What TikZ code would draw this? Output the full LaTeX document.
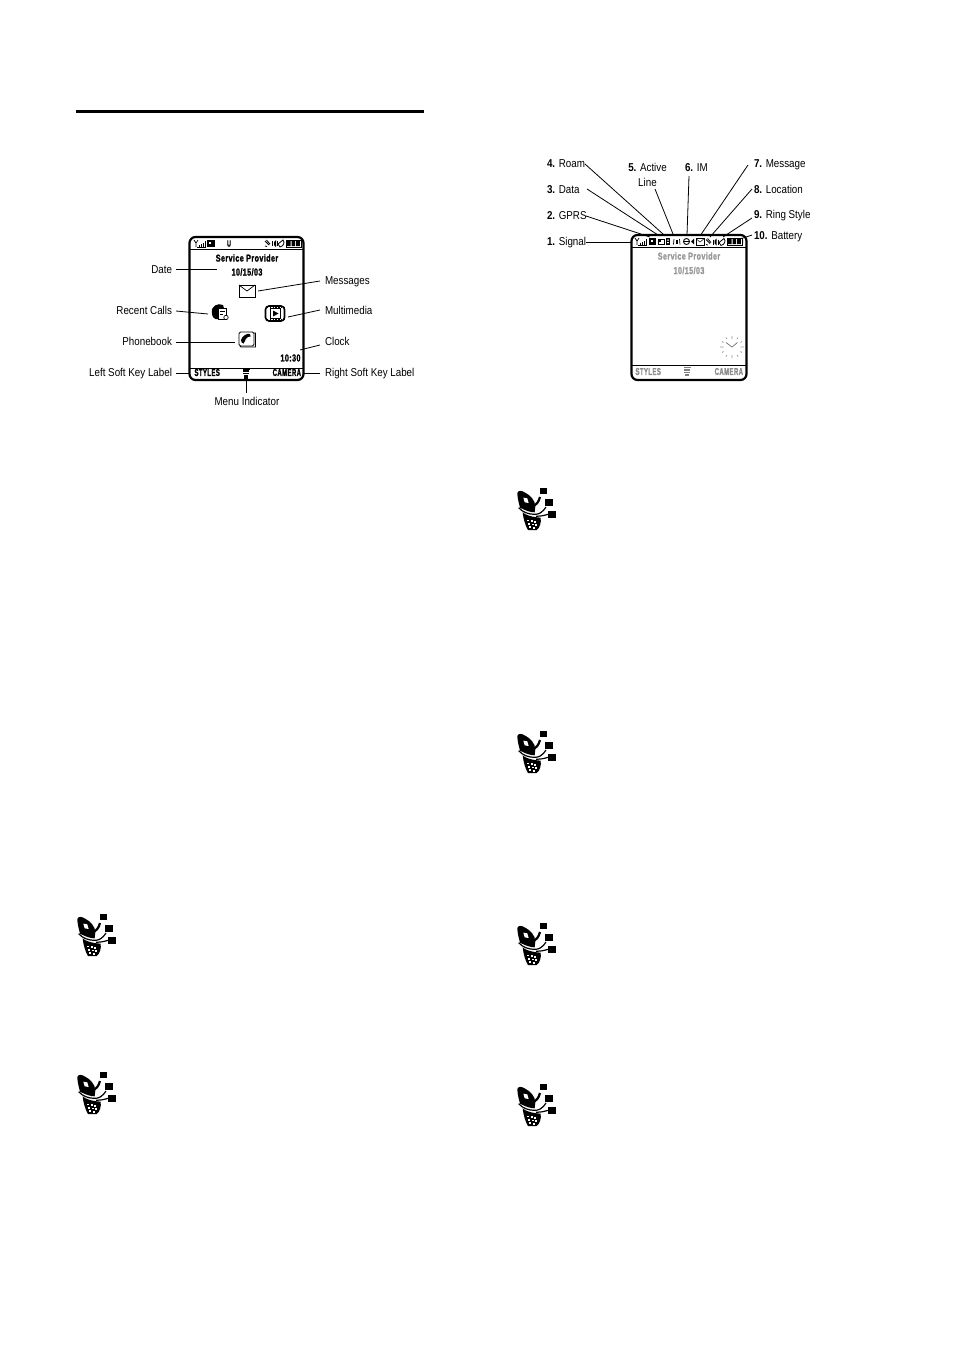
\documentclass[tikz,border=0pt]{standalone}
\usepackage{fontspec}
\setmainfont{Liberation Sans}
\newfontfamily\labfont[FakeStretch=0.86]{Liberation Sans}
\newfontfamily\scrfont[FakeStretch=0.72,LetterSpace=4,BoldFeatures={FakeBold=1.4}]{Liberation Sans}
\newfontfamily\softfont[FakeStretch=0.6,LetterSpace=4,BoldFeatures={FakeBold=1.4}]{Liberation Sans}
\begin{document}
\begin{tikzpicture}[x=1pt,y=-1pt,
  lab2/.style={inner sep=0pt,outer sep=0pt,font=\labfont\fontsize{11.4}{13.5}\selectfont,text=black},
  lab/.style={lab2,text height=8.5pt,text depth=1.5pt},
  scr/.style={inner sep=0pt,outer sep=0pt,font=\scrfont\bfseries\fontsize{10}{11}\selectfont},
  soft/.style={inner sep=0pt,outer sep=0pt,font=\softfont\bfseries\fontsize{10}{11}\selectfont},
  lead/.style={line width=0.8pt,black},
  body/.style={line width=2.2pt,rounded corners=6pt,draw=black},
  sep/.style={line width=0.8pt},
  feat/.pic={
    \begin{scope}[scale=1/3]
      \fill (90,28) rectangle (112,45);
      \fill (105,60) rectangle (128,82);
      \fill (115,97) rectangle (137,117);
      \draw[line width=2.2pt] (70,80) .. controls (78,78) and (86,70) .. (90,54);
      % flip
      \fill (22,42) .. controls (24,34) and (34,34) .. (44,40) .. controls (60,48) and (76,64) .. (76,82)
        -- (74,100) .. controls (60,100) and (46,94) .. (30,86) .. controls (26,70) and (22,56) .. (22,42) -- cycle;
      \fill[white] (40,56) -- (52,58) -- (56,72) -- (44,70) -- cycle;
      % swoosh
      \draw[line width=1.2pt] (26,86) .. controls (38,100) and (56,106) .. (74,106) .. controls (86,106) and (96,102) .. (108,84);
      \draw[line width=1.2pt] (78,112) .. controls (90,112) and (100,110) .. (114,106);
      % lower part
      \fill (38,100) .. controls (46,108) and (64,114) .. (92,116) .. controls (94,130) and (90,146) .. (80,153)
        -- (54,153) .. controls (46,140) and (40,120) .. (38,100) -- cycle;
      \foreach \xx/\yy in {51/122,62/124,73/126,54/132,65/134,76/136,58/142,69/144}
        \fill[white] (\xx,\yy) rectangle +(6,4.5);
    \end{scope}
  },
  sigicon/.pic={
    \draw[line width=.7pt,pic actions] (0,0) -- (2,3) -- (4,0) (2,3) -- (2,7);
    \draw[line width=1pt,pic actions] (5,7) -- (5,5) (7,7) -- (7,4) (9,7) -- (9,2.5) (11,7) -- (11,1) (3,7) -- (11.5,7);
  },
  batt/.pic={
    \draw[line width=.9pt,pic actions] (0,0) rectangle (15,7);
    \fill[pic actions] (1,1) rectangle (4.6,6) (5.6,1) rectangle (9.2,6) (10.2,1) rectangle (13.8,6) (15,2) rectangle (16,5);
  },
  loc/.pic={
    \draw[line width=.8pt,pic actions] (0,1) -- (4,5) (1.5,0) -- (5,4) (0,6) -- (2,6.5);
  },
  spk/.pic={
    \fill[pic actions] (2,2) -- (4,0) -- (4,7) -- (2,5) -- cycle;
    \draw[line width=.7pt,pic actions] (0.5,1) -- (0.5,6) (5.5,1) -- (5.5,6);
  },
  bell/.pic={
    \draw[line width=.8pt,pic actions] (0,4) -- (5,0) .. controls (7,2) and (6,6) .. (2,7) -- cycle;
  }
]
\useasboundingbox (0,0) rectangle (954,1350);
\draw[line width=3pt] (76,111.5) -- (424,111.5);

% ---------- left phone ----------
\node[draw=none,inner sep=0pt,outer sep=0pt,minimum width=114pt,minimum height=143pt] (phoneL) at (246.5,308.5) {};
\draw[body] (phoneL.north west) rectangle (phoneL.south east);
\coordinate (LsepTa) at (190,249);\coordinate (LsepTb) at (303,249);
\coordinate (LsepBa) at (190,368);\coordinate (LsepBb) at (303,368);
\draw[sep] (LsepTa) -- (LsepTb);
\draw[sep] (LsepBa) -- (LsepBb);

\pic at (194,240) {sigicon};
\fill (207,240) rectangle (215,247);
\fill[white] (208.5,241.5) rectangle (210.5,243.5);
\node[inner sep=0pt,outer sep=0pt,font=\softfont\bfseries\fontsize{9}{9}\selectfont] (Lline) at (229,243.5) {U};
\pic at (265,240) {loc};
\pic at (272,240) {spk};
\pic at (278,240) {bell};
\pic at (286,240) {batt};

\node[scr] (Lsp) at (247,258) {Service Provider};
\node[scr] (Ldate) at (247,272) {10/15/03};

\node[draw,line width=.9pt,inner sep=0pt,outer sep=0pt,minimum width=16pt,minimum height=12pt] (Lmsg) at (247,291) {};
\draw[line width=.7pt] (Lmsg.north west) -- (Lmsg.center) -- (Lmsg.north east);

% recent calls icon
\node[inner sep=0pt,outer sep=0pt,minimum width=16pt,minimum height=15pt] (Lrec) at (220,312.5) {};
\fill (212,313) .. controls (210.5,306) and (218,302.5) .. (223,305) -- (224,308) -- (219,308) -- (219,319) .. controls (214,320) and (212,317) .. (212,313) -- cycle;
\draw[line width=1pt,fill=white] (218,308.5) rectangle (226.5,319);
\draw[line width=.8pt] (220,311) -- (225,311) (220,314) -- (223,314);
\draw[line width=.7pt,fill=white] (226,317.5) circle (2.2);

% multimedia icon
\node[draw,line width=1.6pt,rounded corners=3.5pt,inner sep=0pt,outer sep=0pt,minimum width=19pt,minimum height=15pt] (Lmm) at (275,313.5) {};
\draw[line width=.9pt] (270,308.5) rectangle (280,318.5);
\fill (273,310.5) -- (278.5,313.5) -- (273,316.5) -- cycle;
\draw[line width=1pt,dash pattern=on 1.4pt off 1.4pt] (267,307.3) -- (284,307.3) (267,319.7) -- (284,319.7);

% phonebook icon
\node[draw,line width=.9pt,rounded corners=1.5pt,inner sep=0pt,outer sep=0pt,minimum width=15pt,minimum height=14pt] (Lpb) at (246.5,339) {};
\draw[line width=.8pt] (254,333) -- (255.5,333) -- (255.5,347) -- (241,347) -- (240,346);
\fill (241,340) .. controls (242,336) and (247,333) .. (250,334) -- (250.5,336.5) -- (248,337) .. controls (246,338) and (245,340) .. (245,341) -- (243.5,343.5) .. controls (242,343.5) and (241,342) .. (241,340) -- cycle;

\node[scr,anchor=east] (Ltime) at (300.5,358) {10:30};
\node[soft,anchor=west] (Lstyles) at (194.5,372.5) {STYLES};
\node[soft,anchor=east] (Lcamera) at (301,372.5) {CAMERA};
\node[inner sep=0pt,outer sep=0pt,minimum width=7pt,minimum height=11pt] (Lmenu) at (246,373.5) {};
\fill (242.5,368) rectangle (249.5,369.6);
\fill (242.8,370.4) rectangle (249.2,372);
\fill (243.2,372.8) rectangle (248.8,374.4);
\fill (243.6,375.2) rectangle (248.4,376.8);
\fill (244,377.2) rectangle (248,378.8);

\node[lab,anchor=east] (tDate) at (172,269.5) {Date};
\node[lab,anchor=west] (tMsg) at (325,280.5) {Messages};
\node[lab,anchor=east] (tRec) at (172,310.5) {Recent Calls};
\node[lab,anchor=west] (tMm) at (325,310.5) {Multimedia};
\node[lab,anchor=east] (tPb) at (172,342) {Phonebook};
\node[lab,anchor=west] (tClk) at (325,341.5) {Clock};
\node[lab,anchor=east] (tLs) at (172,373) {Left Soft Key Label};
\node[lab,anchor=west] (tRs) at (325,373) {Right Soft Key Label};
\node[lab] (tMenu) at (247,401.5) {Menu Indicator};

\coordinate (eDate) at (217,269);
\coordinate (eMsg) at (258,291);
\coordinate (eRec) at (208,314);
\coordinate (eMm) at (288,317);
\coordinate (ePb) at (235,342);
\coordinate (eClk) at (300,350);
\coordinate (sDate) at (176,269);
\coordinate (sMsg) at (320,281);
\coordinate (sRec) at (176,311);
\coordinate (sMm) at (320,310);
\coordinate (sPb) at (176,342);
\coordinate (sClk) at (320,345);
\coordinate (sLs) at (176,373);
\coordinate (eLs) at (189,373);
\coordinate (sRs) at (320,373);
\coordinate (eRs) at (304,373);
\coordinate (sMenu) at (246,393);
\coordinate (eMenu) at (246,380);
\foreach \a/\b in {sDate/eDate,sMsg/eMsg,sRec/eRec,sMm/eMm,sPb/ePb,sClk/eClk,sLs/eLs,sRs/eRs,sMenu/eMenu}
  \draw[lead] (\a) -- (\b);

% ---------- right phone ----------
\node[inner sep=0pt,outer sep=0pt,minimum width=115pt,minimum height=145pt] (phoneR) at (689,307.5) {};
\draw[body] (phoneR.north west) rectangle (phoneR.south east);
\coordinate (RsepTa) at (632,247.5);\coordinate (RsepTb) at (746,247.5);
\coordinate (RsepBa) at (632,365);\coordinate (RsepBb) at (746,365);
\draw[sep] (RsepTa) -- (RsepTb);
\draw[sep] (RsepBa) -- (RsepBb);

\pic at (635,238) {sigicon};
\fill (649,238) rectangle (656,245);
\fill[white] (650.5,240) rectangle (652.5,242);
\draw[line width=.9pt] (658.5,239.5) rectangle (664.5,244);
\fill (658,239) rectangle (661,241.5);
\fill (666,238) rectangle (670,245);
\fill[white] (667.2,239.5) rectangle (668.8,240.5) (667.2,242) rectangle (668.8,243);
\fill (675.5,239.5) rectangle (678,244);
\draw[line width=.7pt] (674,239) -- (673.5,244.5) (679.5,239) -- (680,244.5);
\draw[line width=.9pt] (686.5,241.5) circle (3);
\draw[line width=.7pt] (683.5,241.5) -- (689.5,241.5);
\fill (691,241.5) -- (694,238.5) -- (694,244.5) -- cycle;
\node[draw,line width=.7pt,inner sep=0pt,outer sep=0pt,minimum width=8pt,minimum height=6.5pt] (Ricon) at (700,242) {};
\draw[line width=.5pt] (Ricon.north west) -- (Ricon.center) -- (Ricon.north east);
\pic at (706,238.5) {loc};
\pic at (712.5,238.5) {spk};
\pic at (719,238.5) {bell};
\pic at (727,238) {batt};

\node[scr,text=black!40] (Rsp) at (689,256) {Service Provider};
\node[scr,text=black!40] (Rdate) at (689,270.5) {10/15/03};
\node[soft,text=black!45,anchor=west] (Rstyles) at (635.5,371.5) {STYLES};
\node[soft,text=black!45,anchor=east] (Rcamera) at (743,371.5) {CAMERA};
\begin{scope}[black!50]
\fill (683.5,367) rectangle (690.5,368.4);
\fill (683.8,369.4) rectangle (690.2,370.8);
\fill (684.2,371.8) rectangle (689.8,373.2);
\fill (684.6,374.2) rectangle (689.4,375.6);
\end{scope}
% clock
\node[inner sep=0pt,outer sep=0pt,minimum size=24pt] (Rclk) at (732,347) {};
\draw[black!55,line width=.7pt] (726,342.5) -- (732,347) -- (737.5,342.5);
\draw[black!40,line width=.8pt]
  (732,336) -- (732,339) (732,355) -- (732,358)
  (720,347) -- (723.5,347) (740.5,347) -- (744,347)
  (726,337.5) -- (727,339) (738,337.5) -- (737,339)
  (722,341.5) -- (723.5,342.5) (742,341.5) -- (740.5,342.5)
  (722,352.5) -- (723.5,351.5) (742,352.5) -- (740.5,351.5)
  (726,356.5) -- (727,355) (738,356.5) -- (737,355);

\node[lab,anchor=west] (n4) at (547,163.5) {\textbf{4.} Roam};
\node[lab,anchor=west] (n3) at (547,189.5) {\textbf{3.} Data};
\node[lab,anchor=west] (n2) at (547,216) {\textbf{2.} GPRS};
\node[lab,anchor=west] (n1) at (547,241.5) {\textbf{1.} Signal};
\node[lab2,align=center,font=\labfont\fontsize{11.4}{15.5}\selectfont] (n5) at (647.5,175) {\textbf{5.} Active\\Line};
\node[lab,anchor=west] (n6) at (685,168) {\textbf{6.} IM};
\node[lab,anchor=west] (n7) at (754,163.5) {\textbf{7.} Message};
\node[lab,anchor=west] (n8) at (754,189.5) {\textbf{8.} Location};
\node[lab,anchor=west] (n9) at (754,214.5) {\textbf{9.} Ring Style};
\node[lab,anchor=west] (n10) at (754,235.5) {\textbf{10.} Battery};

\coordinate (s1) at (586,242); \coordinate (e1) at (632,242);
\coordinate (s2) at (586,216); \coordinate (e2) at (650,237);
\coordinate (s3) at (587,189); \coordinate (e3) at (658,235);
\coordinate (s4) at (585,164); \coordinate (e4) at (663,234);
\coordinate (s5) at (655,189); \coordinate (e5) at (673,234);
\coordinate (s6) at (689,176); \coordinate (e6) at (687,235);
\coordinate (s7) at (748,165); \coordinate (e7) at (700,236);
\coordinate (s8) at (752,189); \coordinate (e8) at (710,237);
\coordinate (s9) at (752,218); \coordinate (e9) at (723,237);
\coordinate (s10) at (752,235); \coordinate (e10) at (740,239);
\foreach \i in {1,...,10} \draw[lead] (s\i) -- (e\i);

% ---------- feature icons ----------
\pic at (70,905) {feat};
\pic at (70,1063) {feat};
\pic at (510,479) {feat};
\pic at (510,722) {feat};
\pic at (510,914) {feat};
\pic at (510,1075) {feat};
\end{tikzpicture}
\end{document}
